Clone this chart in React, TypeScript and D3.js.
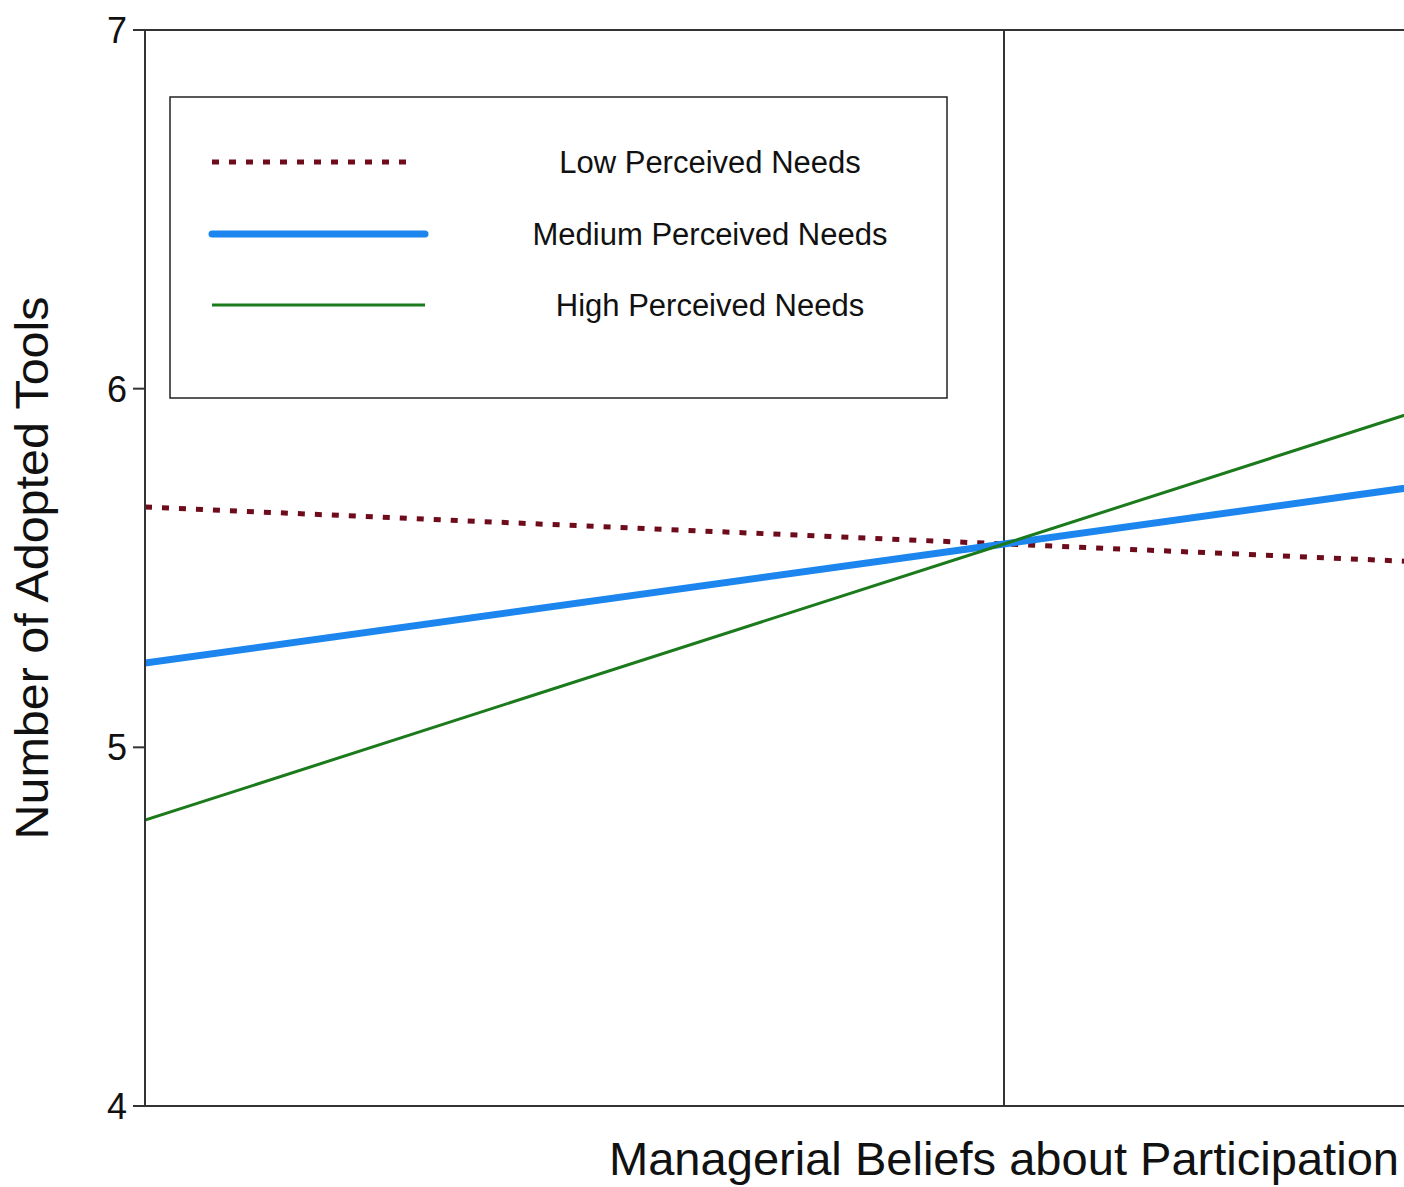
import React from "react";
import * as d3 from "d3";

const xValues = [-1, 0, 1];
const lowNeeds = [5.67, 5.567, 5.464];
const mediumNeeds = [5.235, 5.567, 5.9];
const highNeeds = [4.797, 5.567, 6.337];
const yTicks = [4, 5, 6, 7];

const seriesNames = ["Low Perceived Needs", "Medium Perceived Needs", "High Perceived Needs"];

const W = 1404;
const H = 1187;
const left = 145;
const top = 30;
const bottom = 1106;
const rightFull = 1863;

export default function App() {
  const x = d3.scaleLinear().domain([-1, 1]).range([left, rightFull]);
  const y = d3.scaleLinear().domain([4, 7]).range([bottom, top]);
  const line = d3
    .line<number>()
    .x((_, i) => x(xValues[i]))
    .y((d) => y(d));

  const styles = [
    { stroke: "#6e0c1c", width: 5, dash: "7 10" },
    { stroke: "#1c86ee", width: 7, dash: undefined },
    { stroke: "#1b7a1b", width: 3, dash: undefined },
  ];
  const data = [lowNeeds, mediumNeeds, highNeeds];
  const legendY = [162, 234, 305];
  const font = "'Liberation Sans', Arial, sans-serif";

  return (
    <svg
      width={W}
      height={H}
      style={{ position: "absolute", left: 0, top: 0, display: "block", background: "#fff" }}
      fontFamily={font}
    >
      <defs>
        <clipPath id="plot">
          <rect x={left} y={top} width={rightFull - left} height={bottom - top} />
        </clipPath>
      </defs>
      <rect x={0} y={0} width={W} height={H} fill="#fff" />
      {/* center line */}
      <line x1={x(0)} x2={x(0)} y1={top} y2={bottom} stroke="#333" strokeWidth={2} />
      {/* data lines */}
      <g clipPath="url(#plot)">
        {data.map((d, i) => (
          <path
            key={i}
            d={line(d) || ""}
            fill="none"
            stroke={styles[i].stroke}
            strokeWidth={styles[i].width}
            strokeDasharray={styles[i].dash}
          />
        ))}
      </g>
      {/* axes frame */}
      <line x1={left} x2={left} y1={top} y2={bottom} stroke="#333" strokeWidth={2} />
      <line x1={left} x2={rightFull} y1={top} y2={top} stroke="#333" strokeWidth={2} />
      <line x1={left} x2={rightFull} y1={bottom} y2={bottom} stroke="#333" strokeWidth={2} />
      {yTicks.map((t) => (
        <g key={t}>
          <line x1={left - 12} x2={left} y1={y(t)} y2={y(t)} stroke="#333" strokeWidth={2} />
          <text x={127} y={y(t)} dy="0.36em" textAnchor="end" fontSize={36} fill="#111">
            {t}
          </text>
        </g>
      ))}
      {/* legend */}
      <rect x={170} y={97} width={777} height={301} fill="#fff" stroke="#222" strokeWidth={1.5} />
      {seriesNames.map((name, i) => (
        <g key={name}>
          <line
            x1={212}
            x2={i === 0 ? 412 : 425}
            y1={legendY[i]}
            y2={legendY[i]}
            stroke={styles[i].stroke}
            strokeWidth={styles[i].width}
            strokeDasharray={styles[i].dash}
            strokeLinecap={i === 1 ? "round" : "butt"}
          />
          <text x={710} y={legendY[i]} dy="0.36em" textAnchor="middle" fontSize={31} fill="#111">
            {name}
          </text>
        </g>
      ))}
      {/* axis titles */}
      <text
        x={x(0)}
        y={1175}
        textAnchor="middle"
        fontSize={46}
        fill="#111"
        textLength={790}
        lengthAdjust="spacingAndGlyphs"
      >
        Managerial Beliefs about Participation
      </text>
      <text
        transform={`translate(48, ${(top + bottom) / 2}) rotate(-90)`}
        textAnchor="middle"
        fontSize={47}
        fill="#111"
        textLength={543}
        lengthAdjust="spacingAndGlyphs"
      >
        Number of Adopted Tools
      </text>
    </svg>
  );
}
